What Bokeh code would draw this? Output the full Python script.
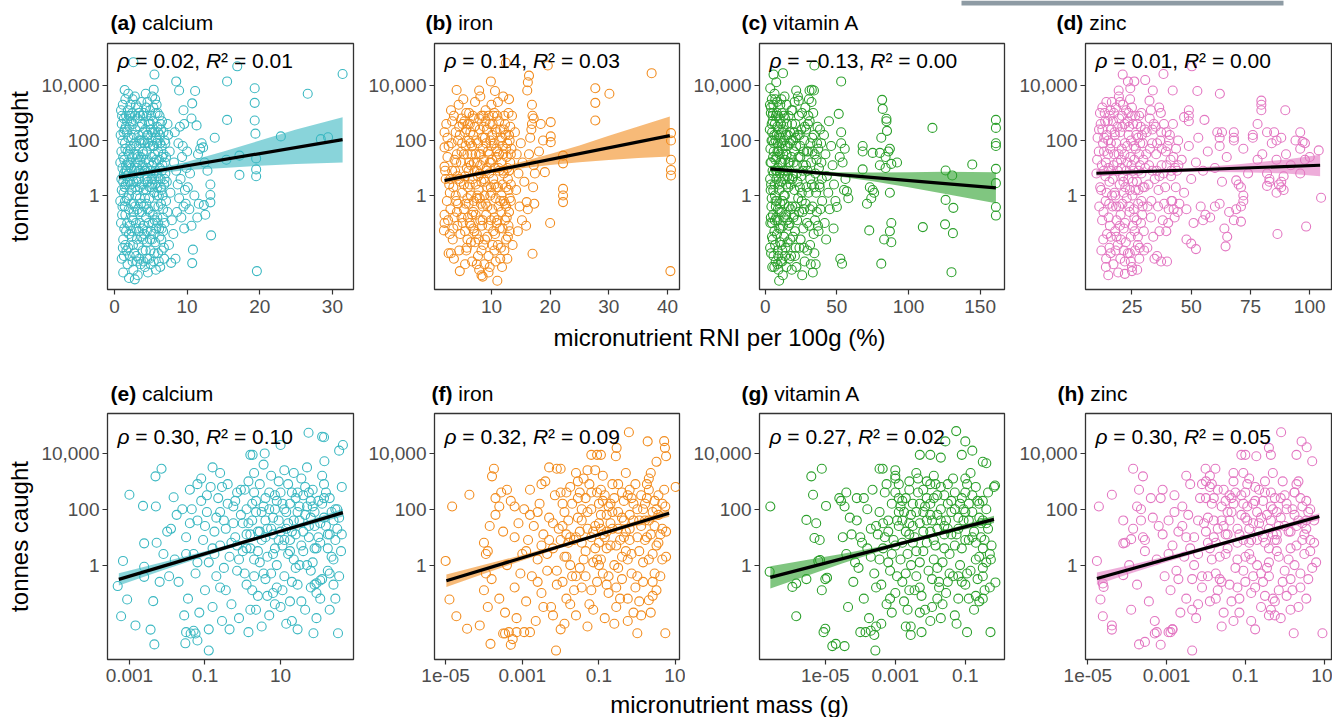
import numpy as np
from bokeh.plotting import figure
from bokeh.models import Range1d, FixedTicker, CustomJSTickFormatter, Label
from bokeh.layouts import row, column
from bokeh.embed import file_html
from bokeh.resources import INLINE

FONT = "Liberation Sans"
TICK_C = "#4d4d4d"
FRAME_C = "#333333"

# ---------------- data: (x, log10 tonnes caught) ----------------
calcium_rni = [
    (2.6,4.85),(5.5,4.4),(8.5,4.15),(8.9,3.82),(11.1,3.8),(1.4,3.84),(5.4,3.85),(16.9,4.7),(15.5,4.15),(19.3,3.9),
    (19.3,3.37),(19.3,2.73),(19.4,2.25),(19.5,1.35),(19.5,0.95),(19.5,0.7),(19.6,-2.75),(31.4,4.42),(26.6,3.7),(22.9,2.15),
    (28.4,2.05),(29.4,2.12),(15.5,2.75),(15.4,1.3),(17.2,1.45),(17.2,0.75),(13.2,0.4),(13.2,0.02),(13.2,-0.25),(13.3,-1.45),
    (12.3,-0.35),(12.5,-0.7),(11.4,-0.8),(10.8,-1.97),(10.7,-2.46),(8.4,-2.3),(7.8,-2.45),(10.6,2.8),(11.3,2.55),(12.0,1.9),
    (11.8,1.7),(11.5,1.5),(13.8,2.1),(9.6,2.6),(9.5,3.1),(10.7,3.35),(12.2,1.75),
    (8.2,1.2),(8.5,0.9),(8.7,0.4),(8.9,-0.1),(9.1,0.6),(9.3,1.4),(9.5,-0.4),(9.7,0.2),(9.9,1.0),(8.3,2.3),
    (8.8,1.9),(9.2,-0.8),(9.6,-1.2),(9.8,-0.3),(8.6,-0.6),(10.1,0.3),(10.3,-0.5),(10.6,-1.1),(7.7,0.1),(7.9,-0.9),
    (8.1,-1.4),(7.6,1.6),(7.4,2.2),(7.5,-1.8),(9.0,2.5),(9.4,1.8),(10.0,1.6),(10.4,0.8),(11.0,0.0),(11.6,-0.3),
    (12.8,0.9),(12.4,1.2),
    (0.9,3.1),(1.0,2.6),(1.1,2.0),(1.2,1.4),(1.3,0.8),(1.0,0.2),(1.1,-0.4),(0.9,-1.0),(1.2,-1.6),(1.3,-2.2),
    (1.5,3.5),(1.6,2.9),(1.7,2.3),(1.5,1.7),(1.6,1.1),(1.8,0.5),(1.7,-0.1),(1.5,-0.7),(1.6,-1.3),(1.9,-1.9),
    (1.8,-2.5),(2.0,-3.0),(1.9,3.7),(2.0,1.5),(2.0,0.0),(0.8,1.2),(0.8,-0.2),(1.4,0.3),(1.4,2.4),(1.2,-2.8),
    (2.2,3.3),(2.3,2.7),(2.4,2.1),(2.2,1.2),(2.5,0.7),(2.3,-0.3),(2.6,-0.9),(2.4,-1.5),(2.7,-2.1),(2.6,-2.7),
    (2.8,3.6),(2.9,2.4),(3.0,1.8),(3.1,1.0),(2.9,0.3),(3.2,-0.5),(3.0,-1.2),(3.3,-1.8),(3.1,-2.4),(2.8,-3.05),
    (3.4,3.0),(3.4,2.0),(3.3,0.6),(3.5,-0.1),(3.5,-1.0),(2.1,0.5),(2.7,1.5),(3.2,-2.9),
    (3.7,3.4),(3.8,2.6),(3.9,1.6),(3.6,0.9),(4.0,0.2),(3.8,-0.6),(4.1,-1.4),(3.9,-2.0),(4.2,-2.6),(4.3,3.7),
    (4.4,2.9),(4.5,2.2),(4.3,1.3),(4.6,0.5),(4.4,-0.3),(4.7,-1.0),(4.5,-1.7),(4.8,-2.3),(4.6,-2.8),(4.9,3.1),
    (4.9,1.8),(5.0,0.9),(4.8,-0.1),(5.0,-1.3),(3.6,-2.5),(4.1,2.0),(4.0,-1.1),
    (5.2,3.6),(5.3,2.7),(5.1,2.0),(5.4,1.2),(5.2,0.4),(5.5,-0.4),(5.3,-1.0),(5.6,-1.7),(5.4,-2.4),(5.7,-2.7),
    (5.8,3.3),(5.9,2.5),(6.0,1.6),(5.8,0.8),(6.1,0.0),(5.9,-0.8),(6.2,-1.5),(6.0,-2.1),(6.3,-2.6),(6.4,2.4),
    (6.5,1.8),(6.6,1.1),(6.4,0.3),(6.7,-0.5),(6.5,-1.2),(6.8,-1.9),(6.9,2.0),(7.0,0.8),(7.1,-0.2),(6.9,-1.0),
    (5.6,3.5),(6.2,2.9),(5.5,1.5),
]
calcium_rni_dense = [
    (0.85,2.2),(0.95,0.6),(1.05,-0.7),(1.15,3.3),(1.25,0.1),(1.35,-1.2),(1.45,1.9),(1.55,0.4),(1.65,-2.0),(1.75,2.7),
    (1.85,1.2),(1.95,-0.5),(2.05,2.5),(2.15,-1.1),(2.25,1.7),(2.35,0.2),(2.45,3.0),(2.55,-1.8),(2.65,2.2),(2.75,0.9),
    (2.85,-0.4),(2.95,3.3),(3.05,0.5),(3.15,2.8),(3.25,1.4),(3.35,-1.3),(3.45,2.5),(3.55,0.8),(3.65,-0.3),(3.75,2.0),
    (3.85,1.1),(3.95,-1.6),(4.05,3.0),(4.15,0.6),(4.25,2.4),(4.35,-0.8),(4.45,1.6),(4.55,3.4),(4.65,-0.5),(4.75,2.6),
    (4.85,0.3),(4.95,-2.0),(5.05,2.9),(5.15,1.4),(5.25,-0.7),(5.35,3.2),(5.45,0.1),(5.55,2.3),(5.65,0.9),(5.75,-1.2),
    (5.85,1.9),(5.95,3.0),(6.05,-0.4),(6.15,1.3),(6.25,2.2),(6.35,0.6),(6.45,-1.6),(6.55,2.7),(6.65,0.0),(6.75,1.5),
    (6.85,-2.3),(6.95,1.2),(1.1,1.0),(1.3,2.8),(1.5,-1.8),(1.7,0.9),(1.9,2.1),(2.1,-2.2),(2.3,1.0),(2.5,3.5),
    (2.7,-0.3),(2.9,1.2),(3.1,-1.6),(3.3,2.2),(3.5,1.3),(3.7,-1.5),(3.9,2.9),(4.1,0.9),(4.3,-2.0),(4.5,1.0),
    (4.7,2.7),(4.9,-1.6),(5.1,0.6),(5.3,1.8),(5.5,-2.1),(5.7,2.1),(5.9,0.3),(6.1,-2.4),(6.3,1.9),(6.5,0.9),
    (6.7,-1.3),(2.0,-1.4),(3.0,0.0),(4.0,1.5),(5.0,2.4),(6.0,-1.0),(1.2,0.5),(2.6,0.5),(3.6,1.9),(4.6,1.9),
    (5.6,0.4),(1.4,-0.4),(2.4,-0.8),(3.4,-2.3),(4.4,0.2),(5.4,-1.4),(6.4,-0.3),(7.2,0.5),(7.3,-0.6),(7.0,1.9),
]
calcium_rni_fill = [
    (0.95,1.6),(1.05,2.9),(1.15,-1.9),(1.25,2.3),(1.35,1.3),(1.45,-0.2),(1.55,2.5),(1.65,0.7),(1.75,-1.0),(1.85,3.1),
    (1.95,0.8),(2.05,1.1),(2.15,2.9),(2.25,0.4),(2.35,-1.3),(2.45,1.4),(2.55,2.6),(2.65,-0.6),(2.75,1.9),(2.85,2.9),
    (2.95,-1.0),(3.05,1.5),(3.15,0.2),(3.25,3.2),(3.35,0.9),(3.45,-0.6),(3.55,2.9),(3.65,1.4),(3.75,0.4),(3.85,-1.2),
    (3.95,2.3),(4.05,-0.4),(4.15,1.9),(4.25,0.9),(4.35,3.2),(4.45,-1.3),(4.55,0.7),(4.65,2.2),(4.75,1.2),(4.85,-0.6),
    (4.95,2.6),(5.05,0.3),(5.15,-1.6),(5.25,2.3),(5.35,0.8),(5.45,1.8),(5.55,-0.9),(5.65,3.0),(5.75,1.3),(5.85,0.0),
    (5.95,2.0),(6.05,0.7),(6.15,-1.2),(6.25,1.0),(6.35,2.6),(6.45,0.2),(6.55,1.4),(6.65,-0.8),(6.75,2.3),(6.85,0.4),
    (1.0,-2.3),(2.0,2.9),(3.0,-2.2),(4.0,-2.4),(5.0,-2.5),(6.0,2.3),(1.5,0.9),(2.5,-2.4),(3.5,0.3),(4.5,-2.3),
    (5.5,0.6),(6.5,-2.0),(7.1,1.4),(7.3,2.6),(6.9,0.6),(2.2,1.8),(3.2,1.2),(4.2,-0.1),(5.2,1.1),(1.8,1.6),
]

iron_rni = [
    (12.45,4.83),(19.6,4.73),(37.3,4.45),(9.9,4.15),(4.06,3.84),(7.9,3.82),(10.6,3.8),(16.2,4.12),(16.4,4.36),(16.1,3.82),
    (27.7,3.9),(27.7,3.37),(27.7,2.73),(30.1,3.7),(40.6,2.27),(40.6,2.0),(40.6,1.3),(40.6,0.93),(40.6,0.73),(40.5,-2.75),
    (22.2,1.45),(22.2,1.17),(22.2,0.24),(22.2,0.0),(22.2,-0.24),(20.0,-1.0),(20.1,2.67),(20.1,2.15),(20.1,1.94),(19.1,0.85),
    (17.0,-2.12),(16.0,-0.24),(16.2,-0.5),(15.9,-1.1),(16.8,2.4),(17.0,2.9),(16.9,2.6),(17.2,2.8),(18.4,2.6),(13.6,-1.8),
    (4.6,-2.75),(8.3,-2.9),(8.5,-2.95),(11.0,-3.1),(3.6,-2.3),(1.9,-1.27),(2.0,-1.0),(2.0,-0.7),(2.0,2.3),(2.0,1.75),
    (2.0,1.05),(2.1,0.9),
    (2.3,2.6),(2.5,1.4),(2.8,0.4),(3.0,-0.5),(3.2,1.9),(3.4,-1.6),(3.6,2.9),(3.8,0.9),(4.0,-0.2),(4.2,-1.1),
    (4.4,3.3),(4.6,2.2),(4.8,1.2),(5.0,0.1),(4.5,-2.0),(3.1,3.1),(2.6,-0.9),(4.9,-0.8),(3.5,0.3),(2.2,0.6),
    (5.2,3.5),(5.4,2.7),(5.6,1.8),(5.8,1.0),(6.0,0.3),(5.3,-0.5),(5.5,-1.3),(5.7,-2.0),(6.2,3.0),(6.4,2.3),
    (6.6,1.5),(6.8,0.6),(7.0,-0.2),(6.3,-1.0),(6.5,-1.7),(6.7,-2.4),(7.2,3.4),(7.4,2.0),(7.6,1.2),(7.8,0.2),
    (7.3,-0.7),(7.5,-1.4),(7.7,-2.2),(7.9,-2.7),(6.1,2.0),(5.9,-0.1),(7.1,0.9),(6.9,-1.2),
    (8.1,3.6),(8.3,2.9),(8.5,2.1),(8.7,1.3),(8.9,0.5),(8.2,-0.3),(8.4,-1.1),(8.6,-1.8),(8.8,-2.5),(9.0,3.1),
    (9.2,2.4),(9.4,1.6),(9.6,0.8),(9.8,0.0),(9.1,-0.7),(9.3,-1.5),(9.5,-2.2),(9.7,-2.6),(10.0,3.3),(10.2,2.6),
    (10.4,1.9),(10.6,1.0),(10.8,0.3),(10.1,-0.5),(10.3,-1.3),(10.5,-2.0),(10.7,-2.4),(9.9,1.2),(8.0,0.8),(10.9,-1.0),
    (11.1,3.4),(11.3,2.7),(11.5,2.0),(11.7,1.2),(11.9,0.4),(11.2,-0.4),(11.4,-1.2),(11.6,-1.9),(11.8,-2.6),(12.0,3.6),
    (12.2,2.9),(12.4,2.2),(12.6,1.4),(12.8,0.6),(12.1,-0.2),(12.3,-0.9),(12.5,-1.6),(12.7,-2.3),(13.0,3.5),(13.2,2.5),
    (13.4,1.7),(13.0,0.9),(13.3,-0.2),(13.1,-1.3),(12.9,3.0),(11.0,1.6),
    (14.0,2.3),(14.3,1.5),(14.6,0.8),(14.2,0.2),(14.8,-0.4),(15.0,1.9),(15.3,1.2),(15.6,0.5),(15.2,-0.9),(16.4,1.5),
    (16.6,2.1),(17.2,1.1),(17.4,0.8),(17.1,0.3),(17.3,-0.3),(16.9,3.3),(18.1,1.6),(18.8,2.0),(14.5,-1.3),
]
iron_rni_dense = [
    (2.4,-0.2),(2.7,1.8),(2.9,-1.4),(3.3,0.9),(3.7,-0.8),(3.9,2.3),(4.1,1.5),(4.3,-0.3),(4.7,0.5),(4.9,2.8),
    (5.1,-1.0),(5.3,1.5),(5.5,0.7),(5.7,3.0),(5.9,-1.6),(6.1,0.9),(6.3,2.6),(6.5,0.0),(6.7,1.8),(6.9,-0.6),
    (7.1,2.5),(7.3,1.5),(7.5,-0.1),(7.7,0.7),(7.9,2.8),(8.1,-0.9),(8.3,0.5),(8.5,-0.4),(8.7,2.5),(8.9,-1.6),
    (9.1,1.9),(9.3,0.3),(9.5,2.9),(9.7,1.2),(9.9,-0.9),(10.1,2.2),(10.3,0.6),(10.5,3.0),(10.7,-0.1),(10.9,1.4),
    (11.1,-1.8),(11.3,0.9),(11.5,2.4),(11.7,-0.6),(11.9,1.8),(12.1,0.8),(12.3,2.6),(12.5,-0.4),(12.7,1.0),(12.9,-1.1),
    (13.1,2.0),(13.3,0.4),(13.5,2.9),(5.0,1.9),(6.0,-0.8),(7.0,1.2),(8.0,2.4),(9.0,-0.3),(10.0,0.1),(11.0,-0.9),
    (12.0,1.5),(13.0,-0.6),(4.0,1.2),(3.0,0.6),(5.5,2.3),(6.5,-1.1),(7.5,0.9),(8.5,1.7),(9.5,-1.1),(10.5,0.4),
    (11.5,-0.2),(12.5,0.3),(4.5,0.6),(5.8,-1.9),(6.8,2.9),(7.8,-1.6),(8.8,0.0),(9.8,2.0),(10.8,1.7),(11.8,2.1),
    (12.8,-1.5),(13.2,1.2),(6.2,1.2),(7.2,-1.7),(8.2,1.5),(9.2,1.0),(10.2,-1.8),(11.2,1.0),(12.2,-2.0),(3.5,-1.2),
]
iron_rni_fill = [
    (2.5,2.1),(2.9,0.1),(3.3,2.7),(3.7,1.3),(4.1,-0.6),(4.5,2.5),(4.9,1.6),(5.3,0.4),(5.7,2.4),(6.1,-0.3),
    (6.5,1.1),(6.9,2.2),(7.3,0.4),(7.7,1.9),(8.1,1.1),(8.5,-0.9),(8.9,2.1),(9.3,-0.4),(9.7,2.6),(10.1,1.3),
    (10.5,-0.8),(10.9,2.3),(11.3,1.5),(11.7,0.0),(12.1,2.4),(12.5,1.7),(12.9,0.2),(13.3,1.5),(3.1,-2.1),(4.3,2.0),
    (5.1,2.6),(6.3,0.4),(7.1,-1.3),(8.3,-2.0),(9.1,0.9),(10.3,2.9),(11.1,0.3),(12.3,-0.3),(13.1,-0.1),(5.9,1.5),
    (6.7,-0.7),(7.9,1.5),(8.7,0.6),(9.9,0.3),(10.7,2.4),(11.9,-1.2),(12.7,1.9),(4.7,-1.4),(3.9,0.0),(2.7,-2.1),
    (5.5,-2.5),(7.5,-2.5),(9.5,-2.8),(11.5,-2.3),(6.0,2.6),(8.0,-0.1),(10.0,1.8),(12.0,0.9),(7.0,2.8),(9.0,2.7),
    (11.0,2.9),(13.0,2.2),(4.2,0.7),(6.4,1.9),(8.6,2.9),(10.6,-1.4),(12.6,-0.8),(5.6,-0.3),(7.6,0.0),(9.6,1.5),
]

vita_rni = [
    (34.3,4.73),(5.8,4.4),(12.4,4.45),(7.7,4.12),(21.6,3.82),(23.4,3.45),(30.9,3.82),(32.5,3.85),(34.0,3.82),(53,4.15),
    (51.3,2.97),(81.6,3.48),(82,3.15),(84.6,2.79),(84.6,2.7),(116.7,2.46),(85,2.35),(81,2.1),(161,2.75),(161,2.46),
    (161,1.9),(161,1.8),(161,0.97),(161,0.45),(161,-0.42),(161,-0.73),(144.5,1.13),(125.9,0.91),(130.5,0.73),(125.9,-0.16),
    (131.3,-0.45),(125.5,-1.05),(131,-1.37),(110,-1.15),(130,-2.79),(81,-2.48),(88,-1.0),(87,-1.3),(83,-1.6),(88,-1.7),
    (72.6,-1.27),(71,-0.3),(74,-0.1),(76,0.1),(75,0.2),(73,0.3),(87,0.1),(68,1.8),(68,1.6),(75,1.55),
    (80,1.55),(84,1.4),(86,1.6),(87,1.7),(68,0.95),(80,1.1),(84,1.0),(88,1.15),(92,1.2),(52.4,-2.3),
    (53.6,-2.48),(47.7,-1.2),
    (3.5,3.9),(4.0,3.2),(4.5,2.6),(5.0,2.0),(5.5,1.4),(6.0,0.8),(3.8,0.2),(4.3,-0.4),(4.8,-1.0),(5.3,-1.6),
    (5.8,-2.2),(6.3,-2.6),(7.0,3.5),(7.5,2.9),(8.0,2.2),(8.5,1.6),(9.0,1.0),(9.5,0.4),(7.2,-0.2),(7.7,-0.8),
    (8.2,-1.4),(8.7,-2.0),(9.2,-2.7),(9.7,-3.1),(6.5,3.7),(3.6,1.7),(4.1,-2.1),(6.8,0.0),(8.9,2.9),(9.8,-1.2),
    (10.5,3.3),(11,2.6),(11.5,1.9),(12,1.2),(12.5,0.6),(13,0.0),(10.2,-0.6),(10.8,-1.2),(11.3,-1.8),(11.8,-2.4),
    (12.3,-2.9),(13.5,3.6),(14,2.8),(14.5,2.2),(15,1.5),(15.5,0.9),(16,0.3),(16.5,-0.4),(17,-1.0),(17.5,-1.6),
    (18,-2.2),(18.5,-2.7),(19,3.1),(19.5,2.0),(13.2,-1.5),(16.2,1.2),(18.8,0.6),(19.7,-0.8),(14.8,-2.6),(12.7,2.4),
    (20.5,3.4),(21,2.6),(21.5,1.8),(22,1.1),(22.5,0.5),(23,-0.1),(20.2,-0.7),(20.8,-1.3),(21.3,-1.9),(21.8,-2.6),
    (23.5,2.9),(24,2.2),(24.5,1.4),(25,0.7),(25.5,0.1),(26,-0.6),(26.5,-1.2),(27,-1.9),(27.5,-2.4),(28,3.2),
    (28.5,2.4),(29,1.6),(29.5,0.9),(28.2,-0.3),(29.2,-1.0),(25.8,-2.9),(22.8,3.6),(27.3,2.0),
    (30.5,3.5),(31,2.7),(31.5,1.9),(32,1.2),(32.5,0.4),(33,-0.4),(30.8,-1.1),(31.3,-1.8),(31.8,-2.5),(33.5,3.0),
    (34,2.2),(34.5,1.5),(35,0.8),(35.5,0.1),(36,-0.6),(33.8,-1.4),(34.3,-2.1),(36.5,2.5),(37,1.7),(37.5,1.0),
    (38,0.3),(38.5,-0.5),(37.2,-1.3),(39,1.9),(39.5,0.6),(33.2,-2.8),(35.2,-2.5),(32.3,3.4),
    (41,2.2),(42,1.5),(43,0.7),(44,0.1),(45,-0.5),(41.5,-1.0),(46,1.8),(47,1.1),(48,0.4),(49,-0.2),
    (50,-0.42),(52,1.4),(53,1.9),(54,1.2),(55,0.2),(56,0.6),(57,0.15),(58,-0.1),(55.5,1.7),(44.5,2.7),
    (42.5,-1.6),(53,2.3),
]
vita_rni_dense = [
    (3.2,2.4),(3.4,0.6),(3.6,-1.0),(3.9,3.0),(4.2,1.2),(4.5,-0.1),(4.8,2.3),(5.1,0.9),(5.4,-0.7),(5.7,3.3),
    (6.1,1.9),(6.4,-1.3),(6.7,2.6),(7.1,1.3),(7.4,-0.4),(7.8,0.6),(8.1,3.0),(8.4,-0.9),(8.8,1.9),(9.1,-2.2),
    (9.4,2.4),(9.8,0.2),(10.1,1.5),(10.4,-1.7),(10.7,2.1),(11.1,0.5),(11.4,-0.6),(11.7,3.0),(12.1,1.7),(12.4,-1.1),
    (12.8,0.9),(13.1,2.0),(13.4,-0.3),(13.8,1.3),(14.2,-1.9),(14.6,0.4),(15.1,2.6),(15.4,-0.9),(15.8,1.8),(16.3,2.9),
    (16.7,0.6),(17.2,1.9),(17.8,-0.5),(18.3,1.4),(18.7,2.6),(19.3,-1.5),(19.8,1.2),(20.4,0.2),(21.2,2.1),(22.3,-0.9),
    (23.2,1.4),(24.2,0.3),(25.2,2.4),(26.3,0.9),(27.1,-0.5),(28.4,1.1),(29.8,2.6),(30.2,0.1),(31.2,-0.5),(32.8,2.1),
    (34.1,0.3),(35.8,1.3),(36.8,-1.1),(38.2,2.4),(39.7,-0.2),(5.2,2.7),(6.6,0.4),(8.3,0.9),(9.9,2.8),(11.9,-2.0),
    (13.7,0.0),(15.6,-1.7),(17.4,2.3),(20.1,1.6),(24.7,-1.6),(26.9,1.6),(29.4,-2.0),(3.4,-1.9),(4.6,3.5),(7.3,-2.4),
]
vita_rni_fill = [
    (3.3,3.3),(3.7,1.2),(4.1,0.4),(4.4,2.0),(4.7,-1.5),(5.1,2.9),(5.6,0.2),(5.9,1.6),(6.3,2.2),(6.7,-0.9),
    (7.2,2.0),(7.6,0.9),(8.0,-0.2),(8.4,2.5),(8.8,-0.5),(9.3,1.6),(9.7,2.2),(10.2,0.8),(10.6,-0.3),(11.0,1.2),
    (11.6,2.3),(12.0,-0.2),(12.6,1.5),(13.0,2.9),(13.6,0.7),(14.1,1.8),(14.7,-0.7),(15.3,0.7),(15.9,2.2),(16.4,-1.1),
    (17.0,1.2),(17.7,0.4),(18.2,2.0),(18.9,-0.4),(19.5,0.7),(20.3,2.3),(21.0,-0.4),(21.9,0.8),(22.7,2.2),(23.6,-0.6),
    (24.4,1.8),(25.5,-0.2),(26.6,1.1),(27.6,2.5),(28.8,0.3),(30.0,1.6),(31.4,0.6),(33.0,1.6),(34.7,-0.9),(36.2,1.9),
    (37.8,0.4),(39.2,1.2),(4.9,-2.6),(6.9,-1.8),(8.6,-2.5),(10.9,-2.4),(13.9,-2.2),(16.8,-2.3),(20.7,-2.2),(23.9,-1.9),
    (5.4,3.0),(8.2,3.4),(11.3,3.5),(14.9,3.3),(18.4,3.1),(25.7,3.0),(30.1,2.9),(3.9,-0.8),(7.9,1.4),(12.9,-0.8),
]

zinc_rni = [
    (38.3,4.42),(50.3,4.7),(21.1,4.4),(23.3,4.15),(26,4.15),(30.6,4.2),(33.8,3.82),(32.4,3.45),(19.4,3.82),(24.3,3.9),
    (42.2,3.82),(52.6,3.8),(62.1,3.7),(79.6,3.45),(79.6,3.3),(79.6,3.1),(89.7,3.1),(47,2.85),(49,3.1),(49,2.9),
    (49,2.7),(55.6,2.75),(61,2.3),(63,2.3),(62,2.1),(68,2.1),(68,2.3),(76,2.1),(82,2.3),(86,2.0),
    (88,2.1),(96,2.3),(97,1.95),(103.8,1.64),(96,1.7),(98,1.3),(104.8,-0.08),(98.5,-1.13),(86.4,-1.4),(65.2,-1.5),
    (64.5,-1.85),(48,-1.6),(50,-1.75),(52,-1.95),(37.3,-2.4),(39.8,-2.4),(14,-2.6),(15,-2.9),(25,-2.75),(22,-2.85),
    (86,0.1),(87,0.4),(89,0.7),(88,0.5),(89,0.2),(83,0.5),(83,0.6),(82,0.35),(69,0.55),(71,0.3),
    (72,0.0),(72,-0.2),(71,-0.4),(69,-0.5),(68,-0.9),(71,-0.95),(55,-0.9),(56,-0.7),(60,-0.4),(62,-0.3),
    (64,-1.2),
    (10,0.8),(11,1.6),(12,0.2),(12.5,2.4),(13,-0.6),(13.5,3.0),(14,1.2),(14.5,-1.4),(15,2.0),(15.5,0.5),
    (16,-2.1),(16.5,3.4),(17,2.7),(17.5,1.5),(18,0.0),(18.5,-0.9),(19,-1.8),(19.5,3.6),(20,2.3),(20.5,1.0),
    (21,-0.3),(21.5,-1.2),(22,-2.4),(22.5,3.1),(23,1.8),(23.5,0.6),(24,-0.6),(24.5,-1.5),(25,-2.6),(25.5,2.6),
    (26,1.3),(26.5,0.2),(27,-0.9),(27.5,-1.8),(28,2.9),(28.5,1.9),(29,0.8),(29.5,-0.4),(30,-1.3),(30.5,2.4),
    (11.5,3.0),(12.8,1.9),(13.8,0.7),(14.8,2.7),(15.8,1.7),(16.8,-0.4),(17.8,2.2),(18.8,1.2),(19.8,0.4),(20.8,2.9),
    (21.8,1.5),(22.8,-0.1),(23.8,2.5),(24.8,1.1),(25.8,-0.5),(26.8,2.2),(27.8,0.9),(28.8,-1.0),(17.2,-2.5),(19.2,-2.8),
    (23.3,-2.1),(20.3,-1.6),(26.3,-2.0),(27.2,-2.7),(15.2,-0.8),(18.2,3.2),(21.2,3.3),(24.2,3.5),(14.2,3.4),(16.2,0.9),
    (22.2,0.3),(25.2,0.0),(29.2,2.2),(28.3,-1.9),
    (31,1.5),(32,0.4),(32.5,2.8),(33,-0.8),(33.5,1.9),(34,-1.5),(35,2.5),(35.5,0.9),(36,-0.4),(36.5,3.2),
    (37,2.0),(37.5,1.1),(38,-0.9),(38.5,2.6),(39,0.3),(39.5,-1.3),(40,1.8),(40.5,-0.5),(41,2.2),(41.5,0.7),
    (42,-0.2),(42.5,1.4),(43,-0.8),(44,0.9),(44.5,2.0),(45,-0.3),(34.5,-2.3),(31.5,-1.9),(37.2,3.0),(43.5,0.3),
    (46,1.3),(47,0.1),(48,-0.5),(49,1.8),(50,0.6),(51,-1.0),(52,1.2),(53,2.1),(54,-0.4),(55,0.9),
    (57,1.6),(58,-0.8),(60,1.0),(62,1.8),(63,0.5),(65,1.4),(66,-0.6),(68,2.0),(70,0.4),(72,1.7),
    (74,0.8),(76,2.2),(78,1.3),(80,1.5),(82,0.8),(84,1.9),(86,1.3),(88,0.3),(90,1.5),(92,1.1),
    (94,2.0),(96,0.8),(98,1.9),(100,1.4),(85,2.3),(78,2.6),
]
zinc_rni_dense = [
    (10.5,2.1),(11.2,-0.4),(11.8,2.6),(12.3,1.1),(12.9,-1.6),(13.3,2.1),(13.9,-0.2),(14.4,2.2),(15.1,1.0),(15.7,-1.1),
    (16.3,2.4),(16.9,0.6),(17.4,3.0),(17.9,-1.3),(18.4,1.9),(19.1,0.9),(19.6,2.8),(20.2,-0.7),(20.7,1.7),(21.3,0.7),
    (21.9,2.6),(22.4,-1.7),(23.1,1.2),(23.6,3.0),(24.1,0.2),(24.6,2.0),(25.3,-1.1),(25.9,1.8),(26.4,2.9),(27.1,0.5),
    (27.6,-0.3),(28.1,1.5),(28.7,2.5),(29.3,-0.7),(29.8,1.3),(30.3,0.3),(31.2,2.3),(32.2,1.1),(33.2,-0.2),(34.2,2.6),
    (35.2,1.5),(36.2,0.2),(37.3,2.3),(38.3,0.8),(39.3,1.6),(40.3,-1.0),(41.3,1.3),(42.3,2.6),(43.3,1.0),(44.3,-0.6),
    (12.1,-2.0),(14.1,-2.3),(16.1,-1.5),(18.1,-2.0),(20.1,-2.3),(22.1,-1.0),(24.1,-2.1),(26.1,-1.3),(28.1,-2.3),(30.1,-2.0),
    (13.1,0.9),(15.6,2.9),(17.6,0.1),(19.6,-0.4),(21.6,0.1),(23.6,2.2),(25.6,0.9),(27.6,2.1),(29.6,0.3),(33.6,0.9),
    (36.6,-1.3),(39.6,2.3),(41.6,-0.2),(35.6,-2.2),
]
zinc_rni_fill = [
    (10.3,1.3),(11.1,2.4),(11.6,0.3),(12.4,-0.9),(13.2,1.6),(13.7,2.7),(14.3,0.1),(14.9,1.5),(15.4,-0.3),(16.1,1.9),
    (16.6,0.0),(17.2,1.1),(17.7,2.3),(18.3,-0.4),(18.9,2.5),(19.4,1.5),(19.9,-1.1),(20.4,1.3),(20.9,2.5),(21.4,0.5),
    (22.0,1.9),(22.6,0.9),(23.2,2.7),(23.8,-0.4),(24.3,1.4),(24.9,2.9),(25.4,0.5),(26.0,-0.8),(26.6,1.7),(27.2,2.6),
    (27.8,0.2),(28.4,1.1),(29.0,-0.2),(29.6,1.9),(30.6,1.0),(31.6,-0.4),(32.6,1.7),(33.6,2.4),(34.6,0.6),(35.6,1.9),
    (36.6,0.7),(37.6,1.7),(38.6,-0.3),(39.6,1.1),(40.6,2.0),(41.6,0.9),(42.6,-0.5),(43.6,1.7),(44.6,1.1),(15.5,-1.9),
    (18.5,-1.5),(21.5,-2.0),(24.5,-2.4),(27.5,-1.5),(12.5,3.2),(16.0,3.1),(20.0,3.4),(25.0,3.2),(29.0,3.0),(33.0,3.1),
]

# bottom row: (log10 grams, log10 tonnes caught)
calcium_mass = [
    (-3.31,-0.75),(-3.17,0.15),(-3.22,-1.83),(-3.06,-1.23),(-3.0,2.52),(-2.84,-2.16),(-2.64,2.12),(-2.61,0.78),(-2.61,-0.06),(-2.61,-0.42),
    (-2.44,-2.31),(-2.37,-1.29),(-2.34,-2.84),(-2.3,2.1),(-2.28,0.8),(-2.31,3.18),(-2.15,3.45),(-1.83,2.43),(-1.5,-2.4),(-1.52,-2.8),
    (-1.38,-2.45),(-1.25,-2.45),(-1.3,-2.35),(-1.2,-2.7),(-0.9,-3.06),(-1.1,3.1),(-0.8,3.5),(-1.2,2.9),(1.74,4.74),(2.1,4.6),
    (2.15,4.58),(2.65,4.3),(2.55,4.1),(1.0,4.3),(0.58,4.0),(0.2,3.95),(0.26,3.95),(2.16,3.72),(2.62,2.8),(1.87,-2.44),
    (2.52,-2.44),(2.05,-0.55),(1.9,-0.7),(1.95,-0.65),(-2.0,1.2),(-2.1,0.4),(-2.2,-0.6),
    (-1.9,1.3),(-1.8,0.2),(-1.7,-0.6),(-1.6,2.0),(-1.5,1.0),(-1.45,-1.2),(-1.4,2.7),(-1.3,0.4),(-1.25,-0.3),(-1.2,1.6),
    (-1.15,-1.7),(-1.1,2.3),(-1.05,0.9),(-1.0,-0.9),(-1.95,-0.4),(-1.55,-1.8),(-1.35,2.0),(-1.75,1.8),
    (-0.95,1.9),(-0.9,0.1),(-0.85,2.8),(-0.8,-1.5),(-0.75,1.2),(-0.7,-0.4),(-0.65,2.4),(-0.6,0.7),(-0.55,-2.0),(-0.5,1.6),
    (-0.45,-0.9),(-0.4,2.9),(-0.35,0.3),(-0.3,-1.4),(-0.25,2.1),(-0.2,1.0),(-0.15,-0.2),(-0.1,-1.9),(-0.05,1.8),(0.0,0.5),
    (-0.9,-2.3),(-0.6,3.3),(-0.35,-2.3),(-0.15,2.6),(-0.7,1.7),(-0.5,-0.1),
    (0.05,2.7),(0.1,-0.7),(0.15,1.5),(0.2,-1.6),(0.25,2.2),(0.3,0.2),(0.35,1.9),(0.4,-1.1),(0.45,2.9),(0.5,0.9),
    (0.55,-0.3),(0.6,2.4),(0.65,1.3),(0.7,-1.8),(0.75,3.2),(0.8,0.4),(0.85,2.0),(0.9,-0.8),(0.95,1.6),(1.0,2.6),
    (0.1,1.1),(0.3,3.3),(0.5,-2.2),(0.7,2.0),(0.9,0.0),(0.2,0.6),(0.4,1.2),(0.6,-0.5),(0.8,1.1),(0.15,-2.4),
    (0.55,3.6),(0.85,-1.4),
    (1.05,0.7),(1.1,-0.4),(1.15,1.9),(1.2,2.9),(1.25,-1.3),(1.3,1.2),(1.35,0.2),(1.4,2.4),(1.45,-0.7),(1.5,1.6),
    (1.55,3.1),(1.6,0.5),(1.65,-1.6),(1.7,2.1),(1.75,1.0),(1.8,-0.2),(1.85,2.7),(1.9,1.4),(1.95,-1.0),(2.0,2.3),
    (1.1,3.4),(1.3,-2.0),(1.5,0.0),(1.7,3.5),(1.9,0.6),(1.2,1.5),(1.4,-0.1),(1.6,2.5),(1.8,1.7),(1.0,-1.5),
    (1.45,-2.3),(1.25,2.2),
    (2.05,0.8),(2.1,-0.5),(2.15,1.7),(2.2,2.6),(2.25,-0.2),(2.3,1.1),(2.35,0.3),(2.4,-0.7),(2.45,2.0),(2.5,1.3),
    (2.55,-0.4),(2.6,0.5),(2.1,3.2),(2.3,-1.6),(2.4,1.6),
]
calcium_mass_dense = [
    (-0.45,1.3),(-0.3,0.8),(-0.2,2.3),(-0.1,0.2),(0.0,1.5),(0.1,2.0),(0.2,1.1),(0.3,2.6),(0.4,0.5),(0.5,1.9),
    (0.6,1.0),(0.7,2.6),(0.8,1.7),(0.9,2.3),(1.0,1.2),(1.1,2.0),(1.2,0.4),(1.3,2.6),(1.4,1.1),(1.5,2.1),
    (1.6,1.2),(1.7,0.0),(1.8,2.3),(1.9,1.9),(2.0,1.0),(2.1,2.2),(2.2,1.4),(2.3,2.4),(2.4,0.2),(2.5,2.0),
    (0.05,-0.3),(0.25,-0.9),(0.45,0.1),(0.65,-1.1),(0.85,0.6),(1.05,-0.9),(1.25,0.9),(1.45,1.9),(1.65,2.8),(1.85,0.1),
    (2.05,-1.2),(2.25,0.6),(2.45,-1.2),(-0.6,1.9),(-0.8,0.6),(-1.0,1.4),(-1.2,0.1),(-1.4,1.5),(-0.95,2.5),(-0.55,2.8),
    (0.15,3.0),(0.95,3.0),(1.35,3.3),(1.75,2.6),(2.15,2.9),(0.35,-1.6),(0.75,-0.3),(1.15,-2.1),(1.55,-1.3),(1.95,-1.9),
]
calcium_mass_fill = [
    (-0.4,2.2),(-0.25,1.5),(-0.05,2.7),(0.1,0.6),(0.25,1.6),(0.35,2.3),(0.45,1.2),(0.55,2.1),(0.65,0.3),(0.75,1.3),
    (0.85,2.5),(0.95,0.9),(1.05,2.2),(1.15,1.3),(1.25,0.5),(1.35,1.6),(1.45,2.6),(1.55,0.7),(1.65,1.8),(1.75,1.4),
    (1.85,2.1),(1.95,0.6),(2.05,1.5),(2.15,2.4),(2.25,1.1),(2.35,1.9),(2.45,0.9),(2.55,1.7),(2.62,1.1),(-0.75,0.4),
    (-0.6,-0.8),(-0.15,0.7),(0.3,-0.4),(0.8,-1.0),(1.3,-0.6),(1.8,-0.8),(2.3,-0.3),(1.1,0.9),(0.6,1.6),(-1.5,0.4),
]

iron_mass = [
    (-5.0,0.15),(-4.9,-1.23),(-4.83,2.1),(-4.72,-1.83),(-4.44,-2.28),(-4.38,2.52),(-4.11,-2.16),(-4.0,0.8),(-3.95,0.4),(-3.95,-0.3),
    (-4.0,-0.9),(-3.9,-1.5),(-3.83,-2.82),(-3.79,3.18),(-3.74,3.45),(-3.7,2.4),(-3.6,2.1),(-3.4,2.7),(-3.2,2.1),(-3.5,-2.45),
    (-3.45,-2.45),(-3.35,-2.4),(-3.3,-2.85),(-3.25,-2.65),(-3.15,-2.4),(-2.95,-2.4),(-2.12,-3.06),(-2.3,3.5),(-2.1,3.45),(-2.0,3.45),
    (-0.22,4.76),(0.27,4.43),(0.7,4.44),(0.72,4.2),(0.75,3.9),(-0.54,4.2),(-0.56,3.9),(-1.2,3.95),(-1.05,3.95),(-0.95,3.95),
    (1.0,2.8),(0.5,3.7),(0.35,3.3),(0.73,2.1),(0.0,-2.44),(0.73,-2.44),(0.3,-1.26),
    (-3.9,0.5),(-3.8,-0.5),(-3.7,1.8),(-3.6,-1.2),(-3.5,1.2),(-3.4,0.0),(-3.3,2.3),(-3.2,-0.8),(-3.1,1.5),(-3.0,0.4),
    (-3.85,1.4),(-3.45,-1.7),(-3.15,-1.9),(-3.55,2.6),(-3.05,-0.3),
    (-2.95,2.0),(-2.9,-1.3),(-2.85,0.9),(-2.8,2.7),(-2.75,-0.4),(-2.7,1.4),(-2.65,-2.0),(-2.6,0.2),(-2.55,2.2),(-2.5,-1.0),
    (-2.45,1.1),(-2.4,3.0),(-2.35,-0.2),(-2.3,1.7),(-2.25,-1.5),(-2.2,0.6),(-2.15,2.5),(-2.1,-0.7),(-2.05,1.3),(-2.0,-2.3),
    (-2.8,-2.4),(-2.5,2.9),(-2.2,-1.8),(-2.6,1.9),(-2.35,0.4),
    (-1.95,2.2),(-1.9,0.3),(-1.85,-1.2),(-1.8,1.6),(-1.75,2.8),(-1.7,-0.4),(-1.65,0.9),(-1.6,-1.8),(-1.55,2.4),(-1.5,1.2),
    (-1.45,-0.8),(-1.4,3.1),(-1.35,0.5),(-1.3,1.9),(-1.25,-1.4),(-1.2,2.6),(-1.15,0.1),(-1.1,1.4),(-1.05,-0.6),(-1.0,2.2),
    (-1.9,-2.1),(-1.6,3.3),(-1.3,-2.2),(-1.1,3.4),(-1.75,0.0),(-1.5,-0.1),(-1.2,1.0),(-1.0,0.8),(-1.45,2.0),(-1.85,1.1),
    (-0.95,1.8),(-0.9,-0.3),(-0.85,2.5),(-0.8,0.6),(-0.75,-1.0),(-0.7,1.5),(-0.65,2.9),(-0.6,0.0),(-0.55,-1.5),(-0.5,1.9),
    (-0.45,0.9),(-0.4,-0.5),(-0.35,2.3),(-0.3,1.2),(-0.25,-1.2),(-0.2,2.7),(-0.15,0.4),(-0.1,1.6),(-0.05,-0.8),(0.0,2.0),
    (-0.9,3.2),(-0.6,-2.1),(-0.3,3.3),(-0.8,1.2),(-0.5,-0.1),(-0.2,0.9),(-0.7,2.2),(-0.4,1.7),(-0.1,-1.7),(-0.95,0.2),
    (0.05,0.5),(0.1,2.5),(0.15,-0.6),(0.2,1.6),(0.25,2.9),(0.3,0.2),(0.35,1.1),(0.4,-1.1),(0.45,2.3),(0.5,0.7),
    (0.55,1.8),(0.6,-0.4),(0.65,1.3),(0.7,2.7),(0.75,0.3),(0.1,-1.8),(0.3,3.1),(0.5,-0.9),(0.2,0.9),(0.4,1.9),
]
iron_mass_dense = [
    (-2.0,0.9),(-1.9,1.9),(-1.8,0.8),(-1.7,2.2),(-1.6,1.0),(-1.5,2.6),(-1.4,0.2),(-1.3,1.3),(-1.2,2.0),(-1.1,0.6),
    (-1.0,1.5),(-0.9,2.3),(-0.8,1.8),(-0.7,0.7),(-0.6,2.4),(-0.5,1.3),(-0.4,2.6),(-0.3,0.5),(-0.2,1.8),(-0.1,2.2),
    (0.0,1.0),(0.1,1.4),(0.2,2.2),(0.3,1.6),(0.4,0.4),(0.5,2.0),(0.6,1.1),(-1.65,-0.9),(-1.35,-0.4),(-1.05,0.2),
    (-0.75,-0.4),(-0.45,-1.2),(-0.15,-0.3),(0.15,0.1),(0.45,-0.3),(-1.95,-0.6),(-2.3,0.9),(-2.6,-0.6),(-2.9,0.5),(-1.85,2.6),
    (-1.55,3.0),(-1.25,2.9),(-0.95,2.7),(-0.65,1.9),(-0.35,1.6),(-0.05,2.9),(0.25,2.4),(0.55,2.5),(-1.15,-1.6),(-0.85,-1.9),
    (-0.55,-0.8),(-0.25,-2.0),(0.05,-1.3),(0.35,-1.7),(-2.45,-1.5),(-1.75,-1.4),(-1.45,1.6),(-0.85,1.0),(-0.25,0.2),(0.65,0.2),
]
iron_mass_fill = [
    (-1.95,1.4),(-1.75,1.0),(-1.55,1.7),(-1.35,2.4),(-1.15,1.2),(-0.95,1.3),(-0.75,2.1),(-0.55,0.7),(-0.35,1.0),(-0.15,2.4),
    (0.05,1.6),(0.25,1.0),(0.45,1.4),(0.65,2.2),(0.75,1.2),(-1.85,0.3),(-1.45,0.8),(-1.05,2.6),(-0.65,1.3),(-0.25,2.5),
    (0.15,2.0),(0.55,0.8),(-2.2,1.5),(-2.5,0.7),(-2.8,1.8),(-1.6,-0.4),(-1.2,-0.9),(-0.8,-0.7),(-0.4,0.3),(0.0,-0.4),
    (0.4,-0.6),(-2.1,-0.2),(-1.0,0.0),(-0.5,2.9),(0.3,2.7),(-1.3,3.4),(-2.0,2.6),(-3.2,1.0),(-0.9,1.1),(-0.2,1.3),
]

vita_mass = [
    (-6.57,2.1),(-6.59,-0.24),(-5.94,-0.78),(-5.83,-0.66),(-5.83,-1.83),(-5.54,1.62),(-5.54,-0.5),(-5.4,3.18),(-5.35,2.52),(-5.1,3.45),
    (-5.26,1.5),(-5.31,0.97),(-5.16,0.9),(-5.2,0.15),(-5.15,0.18),(-5.1,-0.9),(-5.0,-0.5),(-4.95,-0.45),(-5.0,-2.28),(-5.05,-2.4),
    (-4.98,2.12),(-4.8,-2.9),(-4.7,-2.82),(-4.45,-2.9),(-4.4,2.6),(-4.55,2.3),(-4.6,2.4),(-4.45,2.1),(-3.57,-3.06),(-4.0,-2.4),
    (-3.85,-2.4),(-3.7,-2.35),(-3.6,-2.5),(-3.55,-2.2),(-3.36,3.45),(-3.45,3.45),(-3.0,3.4),(-3.0,3.2),(-1.26,4.8),(-1.57,4.43),
    (-1.0,4.43),(-0.8,4.1),(-1.1,3.95),(-2.3,3.95),(-2.0,3.95),(-1.7,3.85),(-0.5,3.7),(-0.4,3.65),(-0.15,2.85),(-0.18,2.8),
    (-0.28,-2.4),(-0.95,-2.4),(-0.14,-0.62),(-0.27,0.2),(-0.5,-0.1),(-0.9,-1.2),(-0.5,-1.2),(-2.56,-2.2),(-2.56,-2.5),(-2.3,-1.7),
    (-4.4,0.4),(-4.3,1.7),(-4.2,-0.6),(-4.1,2.4),(-4.0,1.0),(-3.9,-1.2),(-3.8,2.0),(-3.7,0.3),(-3.6,-0.3),(-3.55,1.4),
    (-4.35,-1.5),(-4.05,-0.1),(-3.75,-1.9),(-3.65,2.7),(-3.95,0.8),(-4.25,1.1),
    (-3.45,1.9),(-3.4,-0.7),(-3.35,0.6),(-3.3,2.6),(-3.25,-1.4),(-3.2,1.2),(-3.15,-0.2),(-3.1,2.2),(-3.05,0.9),(-3.0,-1.0),
    (-2.95,1.6),(-2.9,2.9),(-2.85,0.2),(-2.8,-0.6),(-2.75,1.9),(-2.7,2.4),(-2.65,-1.6),(-2.6,1.1),(-2.55,0.0),(-2.5,2.2),
    (-3.4,-2.1),(-3.0,3.1),(-2.7,-2.2),(-3.2,0.1),(-2.9,1.4),(-2.6,-0.9),(-3.35,1.5),(-2.8,0.8),(-3.1,-1.7),(-2.55,1.8),
    (-2.45,1.0),(-2.4,-0.4),(-2.35,2.6),(-2.3,1.5),(-2.25,-1.1),(-2.2,0.5),(-2.15,2.1),(-2.1,3.0),(-2.05,-0.2),(-2.0,1.2),
    (-1.95,-1.5),(-1.9,2.4),(-1.85,0.7),(-1.8,1.8),(-1.75,-0.6),(-1.7,2.8),(-1.65,0.1),(-1.6,1.4),(-1.55,-1.0),(-1.5,2.2),
    (-2.4,3.3),(-2.0,-2.0),(-1.7,-1.9),(-1.9,3.2),(-2.3,0.1),(-1.6,0.6),(-2.2,1.9),(-1.8,-0.1),(-2.1,0.8),(-1.55,1.6),
    (-1.45,0.4),(-1.4,1.9),(-1.35,-0.4),(-1.3,2.6),(-1.25,1.1),(-1.2,-1.2),(-1.15,2.2),(-1.1,0.6),(-1.05,1.6),(-1.0,-0.7),
    (-0.95,2.9),(-0.9,0.9),(-0.85,-0.2),(-0.8,1.9),(-0.75,1.2),(-0.7,-1.1),(-0.65,2.3),(-0.6,0.3),(-0.55,1.5),(-0.5,-0.4),
    (-0.45,0.9),(-0.4,2.0),(-0.35,1.3),(-0.3,-0.8),(-0.25,0.7),(-1.3,-1.8),(-1.0,3.1),(-0.7,2.8),(-0.5,1.6),(-0.4,0.1),
]
vita_mass_dense = [
    (-3.3,1.0),(-3.1,0.4),(-2.9,2.4),(-2.7,1.2),(-2.5,0.8),(-2.3,2.2),(-2.1,1.6),(-1.9,0.9),(-1.7,2.0),(-1.5,1.3),
    (-1.3,0.7),(-1.1,2.4),(-0.9,1.6),(-0.7,0.8),(-0.5,2.3),(-2.8,1.6),(-2.6,2.7),(-2.4,1.9),(-2.2,2.7),(-2.0,2.2),
    (-1.8,1.3),(-1.6,2.5),(-1.4,1.1),(-1.2,1.7),(-1.0,0.9),(-0.8,2.5),(-0.6,1.7),(-2.95,-0.4),(-2.45,-0.9),(-1.95,-0.5),
    (-1.45,-0.3),(-0.95,-0.3),(-0.45,-0.9),(-3.15,-1.2),(-2.65,0.4),(-2.15,-1.6),(-1.65,-1.4),(-1.15,0.0),(-0.65,-0.5),(-3.45,0.2),
    (-3.7,1.3),(-3.9,2.4),(-4.15,0.1),(-4.5,1.0),(-3.25,2.9),(-2.35,3.1),(-1.85,2.9),(-1.35,3.1),(-0.85,3.3),(-0.35,2.6),
    (-2.75,-1.3),(-2.25,-2.4),(-1.75,-0.8),(-1.25,-2.1),(-0.75,-1.6),(-3.55,-0.8),(-2.85,2.1),(-1.95,1.6),(-1.05,2.0),(-0.55,1.0),
]
vita_mass_fill = [
    (-3.2,1.6),(-3.0,0.7),(-2.8,2.3),(-2.6,1.5),(-2.4,0.5),(-2.2,1.2),(-2.0,1.8),(-1.8,2.5),(-1.6,1.1),(-1.4,2.3),
    (-1.2,1.3),(-1.0,1.9),(-0.8,1.0),(-0.6,2.2),(-0.4,1.5),(-2.9,1.9),(-2.5,1.4),(-2.1,2.4),(-1.7,1.6),(-1.3,2.0),
    (-0.9,2.2),(-0.5,0.6),(-3.5,1.1),(-3.8,0.6),(-4.1,1.6),(-2.7,-0.3),(-2.3,-0.8),(-1.9,0.2),(-1.5,-0.6),(-1.1,-0.6),
    (-0.7,0.2),(-0.3,0.4),(-2.0,2.9),(-1.5,2.9),(-1.0,2.6),(-2.6,3.0),(-3.0,2.6),(-1.8,-1.2),(-1.2,-0.4),(-0.6,-1.3),
]

zinc_mass = [
    (-4.77,0.15),(-4.72,2.1),(-4.62,-0.66),(-4.6,-0.78),(-4.68,-1.23),(-4.62,-1.83),(-4.39,2.52),(-4.39,-2.16),(-4.39,-2.31),(-4.1,1.6),
    (-4.1,0.78),(-4.05,0.8),(-4.1,-0.36),(-3.85,3.45),(-3.9,0.93),(-3.7,-2.84),(-3.55,-2.75),(-3.6,3.18),(-3.75,2.1),(-3.65,1.6),
    (-3.55,0.9),(-3.4,2.4),(-3.1,2.7),(-3.3,-2.45),(-3.25,-2.4),(-3.15,-2.85),(-2.95,-2.4),(-2.9,-2.4),(-2.85,-2.3),(-2.35,-3.06),
    (-2.01,3.45),(-1.76,3.45),(-1.9,3.2),(-2.1,2.9),(-0.09,4.76),(0.43,4.43),(0.56,4.22),(-0.4,4.2),(-0.35,3.95),(-1.1,3.95),
    (-1.0,3.95),(-0.72,3.9),(0.3,3.95),(0.7,3.72),(0.96,-2.44),(0.23,-2.44),(-0.4,-1.8),(-0.35,-1.6),(-0.3,-1.2),
    (-3.95,0.0),(-3.85,1.3),(-3.75,-0.7),(-3.65,2.0),(-3.55,0.5),(-3.45,-1.3),(-3.35,1.7),(-3.25,0.2),(-3.15,2.4),(-3.05,-0.4),
    (-3.9,-1.6),(-3.6,1.0),(-3.3,-2.0),(-3.1,1.1),(-3.7,2.7),
    (-2.95,1.6),(-2.9,-0.9),(-2.85,0.7),(-2.8,2.5),(-2.75,-0.2),(-2.7,1.2),(-2.65,-1.7),(-2.6,2.1),(-2.55,0.3),(-2.5,-1.2),
    (-2.45,1.8),(-2.4,2.9),(-2.35,-0.5),(-2.3,1.0),(-2.25,-1.9),(-2.2,0.4),(-2.15,2.4),(-2.1,-0.8),(-2.05,1.5),(-2.0,3.0),
    (-2.85,-2.3),(-2.5,3.2),(-2.2,-1.4),(-2.6,1.4),(-2.3,0.0),
    (-1.95,0.8),(-1.9,-1.3),(-1.85,2.2),(-1.8,1.0),(-1.75,-0.3),(-1.7,2.7),(-1.65,0.3),(-1.6,1.6),(-1.55,-1.7),(-1.5,2.3),
    (-1.45,0.6),(-1.4,-0.7),(-1.35,1.9),(-1.3,3.0),(-1.25,-0.1),(-1.2,1.3),(-1.15,-1.2),(-1.1,2.5),(-1.05,0.9),(-1.0,1.7),
    (-1.9,2.8),(-1.6,-2.2),(-1.3,-2.0),(-1.05,3.3),(-1.7,-0.9),(-1.5,1.1),(-1.2,0.2),(-1.8,1.6),(-1.4,2.5),(-1.0,-0.6),
    (-0.95,2.1),(-0.9,0.4),(-0.85,-1.0),(-0.8,1.5),(-0.75,2.8),(-0.7,0.0),(-0.65,1.2),(-0.6,-1.5),(-0.55,2.3),(-0.5,0.8),
    (-0.45,1.8),(-0.4,-0.4),(-0.35,2.6),(-0.3,1.1),(-0.25,-1.3),(-0.2,1.9),(-0.15,0.3),(-0.1,2.4),(-0.05,-0.6),(0.0,1.4),
    (-0.9,3.1),(-0.6,-0.3),(-0.3,3.3),(-0.7,1.9),(-0.4,0.6),(-0.1,-1.9),(-0.85,0.9),(-0.5,-1.1),(-0.2,0.9),(-0.75,-2.3),
    (0.05,2.0),(0.1,0.2),(0.15,1.2),(0.2,-0.9),(0.25,2.6),(0.3,0.7),(0.35,1.6),(0.4,-0.3),(0.45,2.1),(0.5,0.4),
    (0.55,1.3),(0.6,-0.5),(0.65,0.9),(0.7,-0.1),(0.75,1.6),(0.8,0.1),(0.15,-1.6),(0.35,3.0),(0.55,-1.2),(0.25,0.0),
]
zinc_mass_dense = [
    (-2.0,1.2),(-1.9,0.6),(-1.8,2.4),(-1.7,1.3),(-1.6,2.1),(-1.5,0.4),(-1.4,1.6),(-1.3,2.2),(-1.2,0.8),(-1.1,1.8),
    (-1.0,2.6),(-0.9,1.3),(-0.8,2.2),(-0.7,0.9),(-0.6,1.7),(-0.5,2.6),(-0.4,1.3),(-0.3,2.0),(-0.2,0.5),(-0.1,1.7),
    (0.0,2.5),(0.1,1.2),(0.2,2.0),(0.3,1.4),(0.4,2.4),(0.5,1.1),(0.6,1.9),(-1.65,-0.5),(-1.35,-1.3),(-1.05,-0.2),
    (-0.75,-0.8),(-0.45,-0.1),(-0.15,-0.9),(0.15,-0.5),(0.45,0.9),(-1.95,-0.4),(-2.4,0.6),(-2.7,-0.5),(-2.95,0.4),(-1.85,2.9),
    (-1.55,2.7),(-1.25,2.6),(-0.95,2.9),(-0.65,2.7),(-0.35,1.6),(-0.05,3.0),(0.25,2.6),(0.55,2.3),(-1.15,-1.7),(-0.85,-2.0),
    (-0.55,-0.6),(-0.25,-1.8),(0.05,-1.1),(0.35,-1.5),(-2.35,-1.6),(-1.75,-1.2),(-1.45,1.9),(-0.85,0.2),(-0.25,0.9),(0.65,0.5),
]
zinc_mass_fill = [
    (-1.95,1.7),(-1.75,0.8),(-1.55,1.4),(-1.35,2.4),(-1.15,1.1),(-0.95,1.6),(-0.75,2.3),(-0.55,1.0),(-0.35,2.1),(-0.15,1.4),
    (0.05,2.2),(0.25,1.8),(0.45,1.5),(0.65,2.0),(0.75,0.8),(-1.85,0.2),(-1.45,1.1),(-1.05,2.2),(-0.65,1.5),(-0.25,2.4),
    (0.15,0.6),(0.55,1.6),(-2.2,1.6),(-2.5,1.0),(-2.8,1.9),(-1.6,-0.6),(-1.2,-0.8),(-0.8,-0.4),(-0.4,0.1),(0.0,-0.2),
    (0.4,-0.8),(-2.1,-0.4),(-1.0,0.3),(-0.5,3.0),(0.3,2.9),(-1.3,3.3),(-2.0,2.4),(-3.2,1.4),(-0.9,0.8),(-0.2,1.1),
]

# fitted lines (x, log10 y) and confidence bands (x, lower, upper)
fit_a = ([0.6, 31.4], [0.665, 2.03]);  band_a = ([0.6, 5, 10, 15, 20, 25, 31.4], [0.535, 0.78, 0.93, 1.0, 1.08, 1.15, 1.20], [0.795, 0.94, 1.23, 1.6, 2.0, 2.4, 2.85])
fit_b = ([2.0, 40.4], [0.545, 2.18]);  band_b = ([2, 6, 10, 15, 20, 25, 30, 35, 40.4], [0.425, 0.635, 0.816, 0.98, 1.11, 1.21, 1.29, 1.36, 1.42], [0.665, 0.795, 0.956, 1.22, 1.51, 1.82, 2.17, 2.51, 2.87])
fit_c = ([3.5, 161], [0.97, 0.28]);    band_c = ([3.5, 25, 50, 75, 100, 125, 161], [0.86, 0.82, 0.70, 0.52, 0.30, 0.06, -0.28], [1.08, 0.94, 0.85, 0.84, 0.85, 0.86, 0.85])
fit_d = ([10, 104.4], [0.81, 1.10]);   band_d = ([10, 30, 50, 70, 90, 104.4], [0.69, 0.81, 0.86, 0.85, 0.80, 0.70], [0.93, 0.93, 1.0, 1.14, 1.31, 1.48])
fit_e = ([-3.28, 2.65], [-0.51, 1.88]); band_e = ([-3.28, -2, -1, 0, 1, 2, 2.65], [-0.73, -0.13, 0.32, 0.75, 1.15, 1.52, 1.74], [-0.29, 0.15, 0.50, 0.87, 1.27, 1.72, 2.02])
fit_f = ([-4.98, 0.83], [-0.56, 1.86]); band_f = ([-4.98, -4, -3, -2, -1, 0, 0.83], [-0.78, -0.31, 0.165, 0.61, 1.04, 1.42, 1.73], [-0.34, 0.01, 0.365, 0.75, 1.16, 1.60, 1.99])
fit_g = ([-6.57, -0.18], [-0.44, 1.64]); band_g = ([-6.57, -5.5, -4.5, -3.5, -2.5, -1.5, -0.18], [-0.84, -0.37, 0.064, 0.47, 0.825, 1.14, 1.51], [-0.04, 0.19, 0.404, 0.65, 0.945, 1.28, 1.77])
fit_h = ([-4.77, 0.88], [-0.48, 1.74]); band_h = ([-4.77, -4, -3, -2, -1, 0, 0.88], [-0.70, -0.34, 0.116, 0.54, 0.94, 1.315, 1.62], [-0.26, -0.02, 0.316, 0.68, 1.06, 1.475, 1.86])

y_ticks = [1, 100, 10000]
y_tick_labels = ["1", "100", "10,000"]
ticks_a = [0, 10, 20, 30]
ticks_b = [10, 20, 30, 40]
ticks_c = [0, 50, 100, 150]
ticks_d = [25, 50, 75, 100]
ticks_e = [0.001, 0.1, 10];          labels_e = ["0.001", "0.1", "10"]
ticks_f = [1e-5, 0.001, 0.1, 10];    labels_f = ["1e-05", "0.001", "0.1", "10"]
ticks_g = [1e-5, 0.001, 0.1];        labels_g = ["1e-05", "0.001", "0.1"]
ticks_h = [1e-5, 0.001, 0.1, 10];    labels_h = ["1e-05", "0.001", "0.1", "10"]

rho_vals = ["0.02", "0.14", "\u22120.13", "0.01", "0.30", "0.32", "0.27", "0.30"]
r2_vals = ["0.01", "0.03", "0.00", "0.00", "0.10", "0.09", "0.02", "0.05"]
tags = ["(a)", "(b)", "(c)", "(d)", "(e)", "(f)", "(g)", "(h)"]
nutrients = ["calcium", "iron", "vitamin A", "zinc"]
x_titles = ["micronutrient RNI per 100g (%)", "micronutrient mass (g)"]

C_CA, C_FE, C_VA, C_ZN = "#3bb8c2", "#f28c1e", "#2ca02c", "#e377c2"
BAR_C = "#8e9ba4"

# ---------------- layout constants (pixels) ----------------
LEFT = [107, 73, 74, 74]
RIGHT = [8, 6, 7, 1]
FRAME_W = [246, 245, 245, 246]
FRAME_H = 246
BOTTOM = [33, 31]
YLOG = [(-3.42, 5.53), (-3.38, 5.43)]
ANNOT_DY = [-17, -23]
TITLE_X = [[110, 425, 741, 1056], [110, 431, 741, 1057]]
TOTAL_W = 1332

EM = {' ': 0.278, '\u00a0': 0.278, '=': 0.584, '.': 0.278, ',': 0.278, '\u2212': 0.584, 'R': 0.722, '\u00b2': 0.333, '\u03c1': 0.57}
BOLD_EM = {'(': 0.333, ')': 0.333, 'a': 0.556, 'b': 0.611, 'c': 0.556, 'd': 0.611, 'e': 0.556, 'f': 0.333, 'g': 0.611, 'h': 0.611}


def tw(s, size, table):
    return sum(table.get(ch, 0.556) for ch in s) * size


def nearest_formatter(tick_values, tick_texts, logscale):
    code = """
    const f = (v) => (USELOG ? Math.log10(v) : v);
    let best = 0;
    for (let i = 0; i < tv.length; i++) {
        if (Math.abs(f(tv[i]) - f(tick)) < Math.abs(f(tv[best]) - f(tick))) { best = i; }
    }
    return tt[best];
    """.replace("USELOG", "true" if logscale else "false")
    return CustomJSTickFormatter(args=dict(tv=tick_values, tt=tick_texts), code=code)


def make_panel(idx, pts, color, xlog, xr, ticks, tlabels, fit, band):
    r, c = divmod(idx, 4)
    ylo, yhi = YLOG[r]
    if xlog:
        x_range = Range1d(10 ** xr[0], 10 ** xr[1])
    else:
        x_range = Range1d(xr[0], xr[1])
    y_range = Range1d(10 ** ylo, 10 ** yhi)
    p = figure(frame_width=FRAME_W[c], frame_height=FRAME_H, x_range=x_range, y_range=y_range,
               x_axis_type="log" if xlog else "linear", y_axis_type="log",
               toolbar_location=None, output_backend="svg", title=None,
               min_border_left=LEFT[c], min_border_right=RIGHT[c],
               min_border_top=5, min_border_bottom=BOTTOM[r],
               background_fill_color="white", border_fill_color="white",
               outline_line_color=FRAME_C, outline_line_width=1.3)
    p.grid.visible = False
    for ax in (p.xaxis[0], p.yaxis[0]):
        ax.axis_line_color = None
        ax.major_tick_line_color = FRAME_C
        ax.major_tick_line_width = 1.2
        ax.major_tick_out = 5
        ax.major_tick_in = 0
        ax.minor_tick_line_color = None
        ax.major_label_text_font = FONT
        ax.major_label_text_font_size = "19px"
        ax.major_label_text_color = TICK_C
    p.xaxis.major_label_standoff = 5 if r == 0 else 4
    p.yaxis.major_label_standoff = 3
    p.yaxis.ticker = FixedTicker(ticks=y_ticks)
    p.yaxis.formatter = nearest_formatter(y_ticks, y_tick_labels, True)
    p.xaxis.ticker = FixedTicker(ticks=ticks)
    if tlabels is not None:
        p.xaxis.formatter = nearest_formatter(ticks, tlabels, True)
    if c == 0:
        p.yaxis.axis_label = "tonnes caught"
        p.yaxis.axis_label_text_font = FONT
        p.yaxis.axis_label_text_font_size = "24px"
        p.yaxis.axis_label_text_font_style = "normal"
        p.yaxis.axis_label_text_color = "black"
        p.yaxis.axis_label_standoff = 5

    arr = np.array(pts, dtype=float)
    xs = 10 ** arr[:, 0] if xlog else arr[:, 0]
    ys = 10 ** arr[:, 1]
    p.scatter(xs, ys, marker="circle", size=9, fill_color=None, line_color=color, line_width=1.1)

    bx = np.array(band[0], dtype=float)
    bxs = 10 ** bx if xlog else bx
    p.varea(x=bxs, y1=10 ** np.array(band[1]), y2=10 ** np.array(band[2]),
            fill_color=color, fill_alpha=0.6)
    fx = np.array(fit[0], dtype=float)
    fxs = 10 ** fx if xlog else fx
    p.line(fxs, 10 ** np.array(fit[1]), line_color="black", line_width=3.2)

    x0, y0 = x_range.start, y_range.end
    size = 21
    pieces = [("\u03c1", "italic"), ("\u00a0= " + rho_vals[idx] + ",\u00a0", "normal"),
              ("R", "italic"), ("\u00b2 = " + r2_vals[idx], "normal")]
    off = 10.0
    for txt, style in pieces:
        p.add_layout(Label(x=x0, y=y0, x_offset=off, y_offset=ANNOT_DY[r], text=txt,
                           text_font=FONT, text_font_size=f"{size}px", text_font_style=style,
                           text_color="black", text_baseline="middle"))
        off += tw(txt, size, EM)
    return p


def strip(h):
    s = figure(width=TOTAL_W, height=h, x_range=Range1d(0, TOTAL_W), y_range=Range1d(0, h),
               x_axis_location=None, y_axis_location=None, toolbar_location=None,
               output_backend="svg", min_border=0, outline_line_color=None, title=None,
               background_fill_color="white", border_fill_color="white")
    s.grid.visible = False
    return s


def add_titles(s, r, y):
    for c in range(4):
        idx = r * 4 + c
        tag = tags[idx]
        x = TITLE_X[r][c]
        s.add_layout(Label(x=x, y=y, text=tag, text_font=FONT, text_font_size="21px",
                           text_font_style="bold", text_color="black", text_baseline="middle"))
        s.add_layout(Label(x=x + tw(tag, 21, BOLD_EM) + 0.278 * 21, y=y, text=nutrients[c],
                           text_font=FONT, text_font_size="21px", text_color="black",
                           text_baseline="middle"))


def add_xtitle(s, text, cx, cy):
    s.add_layout(Label(x=cx, y=cy, text=text, text_align="center", text_baseline="middle",
                       text_font=FONT, text_font_size="24px", text_color="black"))


specs = [
    (calcium_rni + calcium_rni_dense + calcium_rni_fill, C_CA, False, (-0.96, 32.9), ticks_a, None, fit_a, band_a),
    (iron_rni + iron_rni_dense + iron_rni_fill, C_FE, False, (0.29, 42.05), ticks_b, None, fit_b, band_b),
    (vita_rni + vita_rni_dense + vita_rni_fill, C_VA, False, (-4.0, 167.0), ticks_c, None, fit_c, band_c),
    (zinc_rni + zinc_rni_dense + zinc_rni_fill, C_ZN, False, (5.4, 109.2), ticks_d, None, fit_d, band_d),
    (calcium_mass + calcium_mass_dense + calcium_mass_fill, C_CA, True, (-3.58, 2.93), ticks_e, labels_e, fit_e, band_e),
    (iron_mass + iron_mass_dense + iron_mass_fill, C_FE, True, (-5.29, 1.10), ticks_f, labels_f, fit_f, band_f),
    (vita_mass + vita_mass_dense + vita_mass_fill, C_VA, True, (-6.88, 0.12), ticks_g, labels_g, fit_g, band_g),
    (zinc_mass + zinc_mass_dense + zinc_mass_fill, C_ZN, True, (-5.06, 1.19), ticks_h, labels_h, fit_h, band_h),
]

panels = [make_panel(i, *s) for i, s in enumerate(specs)]

# title strip above row 1 (with the thin grey bar seen at the top edge of the reference)
t1 = strip(38)
t1.quad(left=[961], right=[1283], bottom=[33], top=[38], fill_color=BAR_C, line_color=None)
add_titles(t1, 0, 16)
s1 = strip(86)
add_xtitle(s1, x_titles[0], 719, 71)
add_titles(s1, 1, 15)
s2 = strip(27)
add_xtitle(s2, x_titles[1], 729, 13.5)

layout = column(t1, row(*panels[:4], spacing=0), s1, row(*panels[4:], spacing=0), s2, spacing=0)
open("out.html", "w").write(file_html(layout, INLINE))
